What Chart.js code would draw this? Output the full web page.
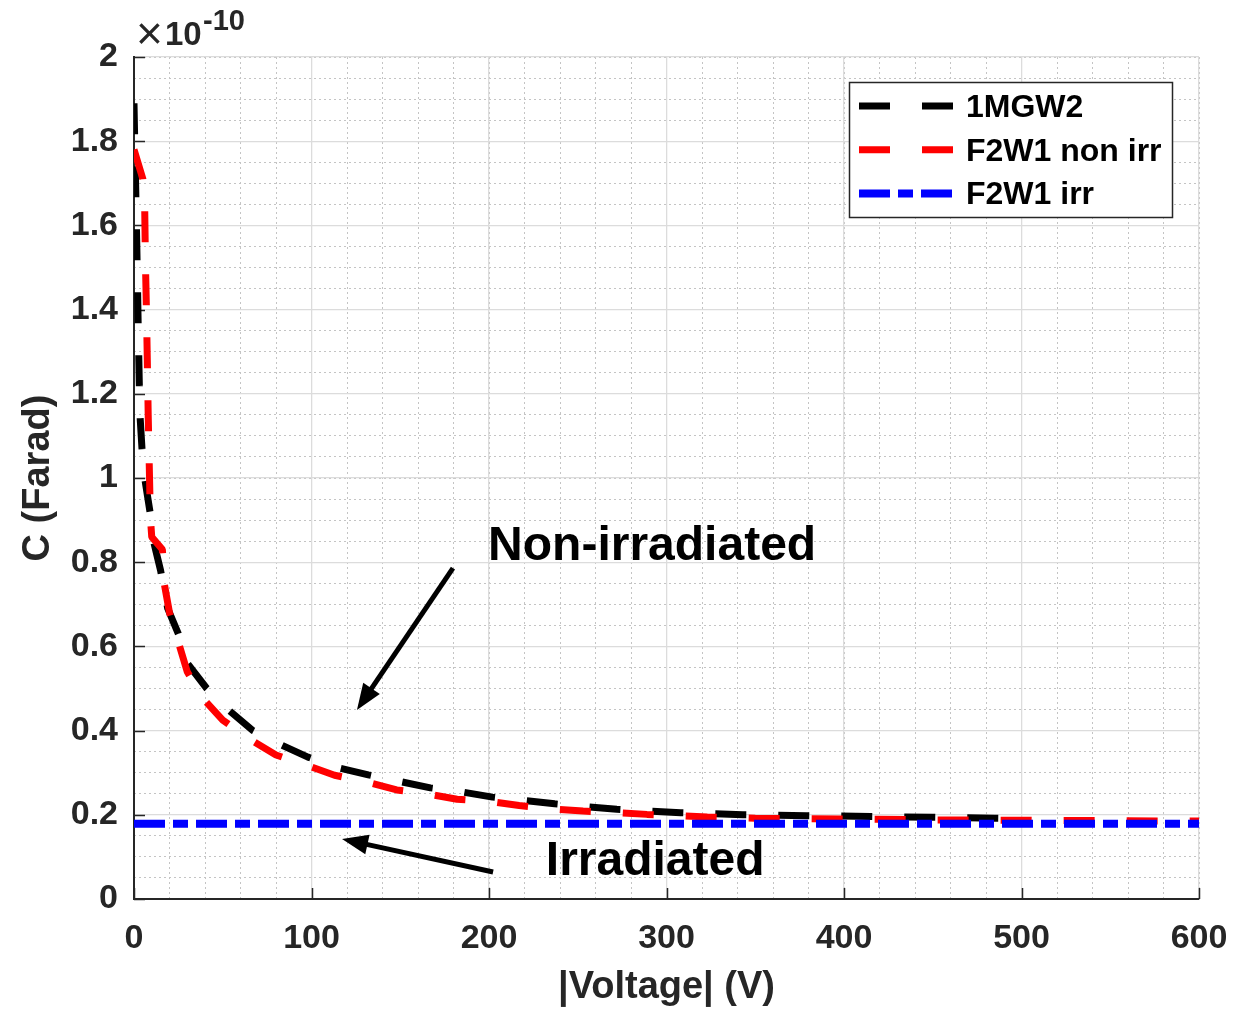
<!DOCTYPE html>
<html>
<head>
<meta charset="utf-8">
<script src="https://cdn.jsdelivr.net/npm/chart.js@4.4.1/dist/chart.umd.min.js"></script>
<style>
  html, body { margin: 0; padding: 0; background: #fff; }
  canvas { display: block; }
</style>
</head>
<body>
<canvas id="cvChart" width="1234" height="1010"></canvas>
<script>
// capacitance values are in units of 1e-10 F (axis shows x10^-10)
const voltBlack = [0, 0.5, 1, 1.5, 2, 2.5, 3, 3.5, 4.5, 6, 9, 11, 15, 19, 25, 30, 41, 53, 67, 83, 98, 116, 132, 151, 167, 185, 202, 237, 272, 308, 343, 379, 415, 450, 485, 500];
const capBlack = [1.89, 1.78, 1.68, 1.57, 1.45, 1.33, 1.22, 1.14, 1.07, 1.0, 0.92, 0.85, 0.78, 0.69, 0.63, 0.56, 0.5, 0.45, 0.4, 0.366, 0.337, 0.311, 0.295, 0.278, 0.264, 0.254, 0.242, 0.226, 0.213, 0.205, 0.2, 0.198, 0.196, 0.194, 0.192, 0.191];

const voltRed = [0, 5, 6, 6.5, 7, 7.5, 8, 8.5, 9, 9.5, 10, 16, 17, 20, 25, 30, 38, 50, 65, 80, 97, 113, 131, 148, 165, 182, 200, 217, 236, 253, 272, 289, 306, 323, 350, 400, 450, 500, 550, 600];
const capRed = [1.78, 1.71, 1.65, 1.5, 1.4, 1.28, 1.15, 1.05, 0.95, 0.89, 0.86, 0.83, 0.75, 0.68, 0.61, 0.54, 0.48, 0.425, 0.38, 0.342, 0.318, 0.294, 0.278, 0.259, 0.25, 0.237, 0.232, 0.222, 0.214, 0.209, 0.205, 0.201, 0.198, 0.195, 0.192, 0.19, 0.188, 0.187, 0.186, 0.185];

const voltBlue = [0, 100, 200, 300, 400, 500, 600];
const capBlue = [0.179, 0.179, 0.179, 0.179, 0.179, 0.179, 0.179];

const seriesNames = ["1MGW2", "F2W1 non irr", "F2W1 irr"];
const xTicks = [0, 100, 200, 300, 400, 500, 600];
const yTicks = [0, 0.2, 0.4, 0.6, 0.8, 1, 1.2, 1.4, 1.6, 1.8, 2];

const notes = [
  { text: "Non-irradiated", x: 199.5, y: 0.805, tail: [179.7, 0.786], head: [125.6, 0.449] },
  { text: "Irradiated", x: 232, y: 0.057, tail: [202.3, 0.064], head: [117.2, 0.1425] }
];

const FONT = "'Liberation Sans', Arial, Helvetica, sans-serif";
const AXIS_COL = "#262626";

function toPoints(xs, ys) {
  return xs.map((x, i) => ({ x: x, y: ys[i] }));
}

function noPad(s) {
  s.paddingLeft = 0;
  s.paddingRight = 0;
  s.paddingTop = 0;
  s.paddingBottom = 0;
}

function drawArrow(ctx, x1, y1, x2, y2) {
  const ang = Math.atan2(y2 - y1, x2 - x1);
  const len = 26, half = 10;
  const bx = x2 - Math.cos(ang) * len;
  const by = y2 - Math.sin(ang) * len;
  ctx.beginPath();
  ctx.moveTo(x1, y1);
  ctx.lineTo(bx + Math.cos(ang) * 2, by + Math.sin(ang) * 2);
  ctx.stroke();
  ctx.beginPath();
  ctx.moveTo(x2, y2);
  ctx.lineTo(bx - Math.sin(ang) * half, by + Math.cos(ang) * half);
  ctx.lineTo(bx + Math.sin(ang) * half, by - Math.cos(ang) * half);
  ctx.closePath();
  ctx.fill();
}

const matlabDecor = {
  id: "matlabDecor",
  beforeDatasetsDraw(chart) {
    const ctx = chart.ctx;
    const area = chart.chartArea;
    const xs = chart.scales.x, ys = chart.scales.y;
    ctx.save();
    ctx.strokeStyle = AXIS_COL;
    ctx.lineWidth = 1.5;
    ctx.setLineDash([]);
    ctx.beginPath();
    yTicks.forEach((v) => {
      const py = Math.round(ys.getPixelForValue(v)) + 0.5;
      ctx.moveTo(area.left, py);
      ctx.lineTo(area.left + 11, py);
    });
    xTicks.forEach((v) => {
      const px = Math.round(xs.getPixelForValue(v)) + 0.5;
      ctx.moveTo(px, area.bottom);
      ctx.lineTo(px, area.bottom - 11);
    });
    ctx.stroke();
    ctx.restore();
  },
  afterDatasetsDraw(chart) {
    const ctx = chart.ctx;
    const area = chart.chartArea;
    const xs = chart.scales.x, ys = chart.scales.y;
    ctx.save();

    // annotations with arrows
    ctx.fillStyle = "#000";
    ctx.strokeStyle = "#000";
    ctx.lineWidth = 5;
    ctx.setLineDash([]);
    notes.forEach((n) => {
      drawArrow(ctx,
        xs.getPixelForValue(n.tail[0]), ys.getPixelForValue(n.tail[1]),
        xs.getPixelForValue(n.head[0]), ys.getPixelForValue(n.head[1]));
      ctx.font = "bold 48px " + FONT;
      ctx.textAlign = "left";
      ctx.textBaseline = "alphabetic";
      ctx.fillText(n.text, xs.getPixelForValue(n.x), ys.getPixelForValue(n.y));
    });

    // legend box
    const bw = 323, bh = 135;
    const bx = area.right - 27 - bw, by = area.top + 25;
    ctx.fillStyle = "#fff";
    ctx.fillRect(bx, by, bw, bh);
    ctx.strokeStyle = AXIS_COL;
    ctx.lineWidth = 1.5;
    ctx.strokeRect(bx + 0.5, by + 0.5, bw, bh);
    chart.data.datasets.forEach((ds, i) => {
      const cy = by + 24 + i * 43.7;
      ctx.strokeStyle = ds.borderColor;
      ctx.lineWidth = ds.borderWidth;
      ctx.setLineDash(ds.borderDash);
      ctx.lineDashOffset = 0;
      ctx.beginPath();
      ctx.moveTo(bx + 10, cy);
      ctx.lineTo(bx + 104, cy);
      ctx.stroke();
      ctx.setLineDash([]);
      ctx.fillStyle = "#000";
      ctx.font = "bold 32px " + FONT;
      ctx.textAlign = "left";
      ctx.textBaseline = "middle";
      ctx.fillText(ds.label, bx + 117, cy + 2);
    });

    // exponent label
    ctx.fillStyle = AXIS_COL;
    ctx.textBaseline = "alphabetic";
    ctx.textAlign = "left";
    ctx.font = "46px " + FONT;
    ctx.fillText("\u00d7", area.left + 2, area.top - 8);
    ctx.font = "bold 33px " + FONT;
    ctx.fillText("10", area.left + 31, area.top - 12);
    ctx.font = "bold 29px " + FONT;
    ctx.fillText("-10", area.left + 69, area.top - 27);
    ctx.restore();
  }
};

new Chart(document.getElementById("cvChart"), {
  type: "line",
  data: {
    datasets: [
      {
        label: seriesNames[0],
        data: toPoints(voltBlack, capBlack),
        borderColor: "#000000",
        borderWidth: 7,
        borderDash: [31, 32],
        borderJoinStyle: "bevel",
        pointRadius: 0,
        tension: 0,
        order: 3
      },
      {
        label: seriesNames[1],
        data: toPoints(voltRed, capRed),
        borderColor: "#ff0000",
        borderWidth: 7,
        borderDash: [31, 32],
        borderJoinStyle: "bevel",
        pointRadius: 0,
        tension: 0,
        order: 2
      },
      {
        label: seriesNames[2],
        data: toPoints(voltBlue, capBlue),
        borderColor: "#0000ff",
        borderWidth: 8,
        borderDash: [31, 8, 15, 8],
        pointRadius: 0,
        tension: 0,
        order: 1
      }
    ]
  },
  options: {
    responsive: false,
    animation: false,
    devicePixelRatio: 1,
    layout: { padding: { top: 57, right: 35, left: 0, bottom: 0 } },
    plugins: {
      legend: { display: false },
      tooltip: { enabled: false }
    },
    scales: {
      xMinor: {
        type: "linear",
        position: "bottom",
        min: 0, max: 600,
        ticks: { display: false, stepSize: 20, maxTicksLimit: 100 },
        grid: { color: "#c4c4c4", lineWidth: 1, drawTicks: false, z: -2 },
        border: { display: false, dash: [2, 3] },
        afterFit: (s) => { s.height = 0; noPad(s); }
      },
      yMinor: {
        type: "linear",
        position: "left",
        min: 0, max: 2,
        ticks: { display: false, stepSize: 0.05, maxTicksLimit: 100 },
        grid: { color: "#c4c4c4", lineWidth: 1, drawTicks: false, z: -2 },
        border: { display: false, dash: [2, 3] },
        afterFit: (s) => { s.width = 0; noPad(s); }
      },
      x: {
        type: "linear",
        position: "bottom",
        min: 0, max: 600,
        afterBuildTicks: (s) => { s.ticks = xTicks.map((v) => ({ value: v })); },
        ticks: {
          autoSkip: false,
          maxRotation: 0,
          padding: 19,
          color: AXIS_COL,
          font: { family: FONT, size: 34, weight: "bold" }
        },
        grid: { color: "#dcdcdc", lineWidth: 1.3, drawTicks: false, z: -1 },
        border: { display: true, color: AXIS_COL, width: 2 },
        title: {
          display: true,
          text: "|Voltage| (V)",
          color: AXIS_COL,
          font: { family: FONT, size: 38, weight: "bold" },
          padding: { top: 0, bottom: 0 }
        },
        afterFit: (s) => { s.height = 111; noPad(s); }
      },
      y: {
        type: "linear",
        position: "left",
        min: 0, max: 2,
        afterBuildTicks: (s) => { s.ticks = yTicks.map((v) => ({ value: v })); },
        ticks: {
          padding: 16,
          color: AXIS_COL,
          font: { family: FONT, size: 34, weight: "bold" },
          callback: (v) => String(+v.toFixed(1))
        },
        grid: { color: "#dcdcdc", lineWidth: 1.3, drawTicks: false, z: -1 },
        border: { display: true, color: AXIS_COL, width: 2 },
        title: {
          display: true,
          text: "C (Farad)",
          color: AXIS_COL,
          font: { family: FONT, size: 38, weight: "bold" },
          padding: { top: 16, bottom: 0 }
        },
        afterFit: (s) => { s.width = 134; noPad(s); }
      }
    }
  },
  plugins: [matlabDecor]
});
</script>
</body>
</html>
